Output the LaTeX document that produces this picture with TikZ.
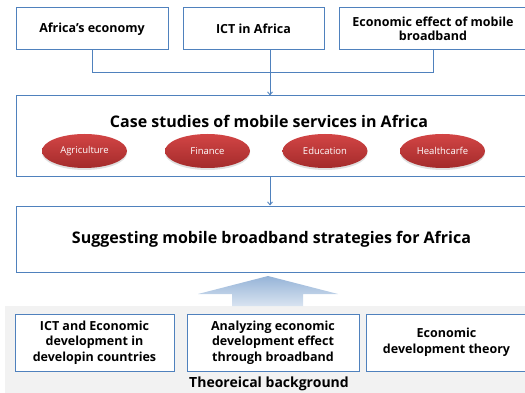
\documentclass[tikz,border=0pt]{standalone}
\usepackage{fontspec}
\setmainfont{Open Sans}
\usetikzlibrary{shadows,arrows.meta,shapes.geometric}
\definecolor{bord}{HTML}{4F81BD}
\definecolor{redtop}{HTML}{D24545}
\definecolor{redbot}{HTML}{A42B2B}
\definecolor{bggray}{HTML}{F2F2F2}
\tikzset{
  box/.style={draw=bord, line width=1pt, fill=white, align=center, font=\bfseries\fontsize{12.5}{15.5}\selectfont},
  oval/.style={ellipse, top color=redtop, bottom color=redbot, draw=none, text=white,
     minimum width=85pt, minimum height=34pt, inner sep=0pt, font=\fontsize{9.5}{11}\selectfont,
     drop shadow={opacity=0.25, shadow xshift=0pt, shadow yshift=-2pt}},
  conn/.style={draw=bord, line width=0.9pt},
  arr/.style={conn, -{Straight Barb[length=3pt,width=5pt]}},
  big/.style={font=\bfseries\fontsize{16}{19}\selectfont},
}
\begin{document}
\begin{tikzpicture}[x=1pt,y=-1pt]
\useasboundingbox (0,0) rectangle (525,393);
% top boxes
\node[box, minimum width=152pt, minimum height=42pt] (b1) at (92,29) {Africa’s economy};
\node[box, minimum width=141pt, minimum height=42pt] (b2) at (253.5,29) {ICT in Africa};
\node[box, minimum width=188pt, minimum height=42pt, font=\bfseries\fontsize{12.5}{14}\selectfont] (b3) at (433,29) {Economic effect of mobile\\broadband};
% case box
\node[box, minimum width=511pt, minimum height=81pt] (case) at (271.5,136.5) {};
\node[big] (casetitle) at (269,121) {Case studies of mobile services in Africa};
\node[oval] (e1) at (84.5,151) {Agriculture};
\node[oval] (e2) at (207.5,151) {Finance};
\node[oval] (e3) at (325,151) {Education};
\node[oval] (e4) at (442.5,151) {Healthcarfe};
% suggesting box
\node[box, big, minimum width=511pt, minimum height=66pt] (sug) at (271.5,239) {Suggesting mobile broadband strategies for Africa};
% connectors
\coordinate (jy) at (0,72);
\coordinate (ax) at (270,0);
\draw[conn] (b1.south) -- (b1.south |- jy) -- (b3.south |- jy) -- (b3.south);
\draw[arr] (b2.south -| ax) -- (case.north -| ax);
\draw[arr] (case.south -| ax) -- (sug.north -| ax);
% gray background
\fill[bggray] (5,306) rectangle (525,393);
% big arrow
\shade[top color=bord!60, bottom color=bord!22] (198,294) -- (268,276) -- (338,294) -- (303,294) -- (303,306) -- (232,306) -- (232,294) -- cycle;
% bottom boxes
\node[box, minimum width=159pt, minimum height=57pt] (t1) at (94.5,342.5) {ICT and Economic\\development in\\developin countries};
\node[box, minimum width=172pt, minimum height=57pt] (t2) at (273,342.5) {Analyzing economic\\development effect\\through broadband};
\node[box, minimum width=161pt, minimum height=57pt] (t3) at (446.5,342.5) {Economic\\development theory};
\node[font=\bfseries\fontsize{14}{16}\selectfont] (bg) at (269,384) {Theoreical background};
\end{tikzpicture}
\end{document}
